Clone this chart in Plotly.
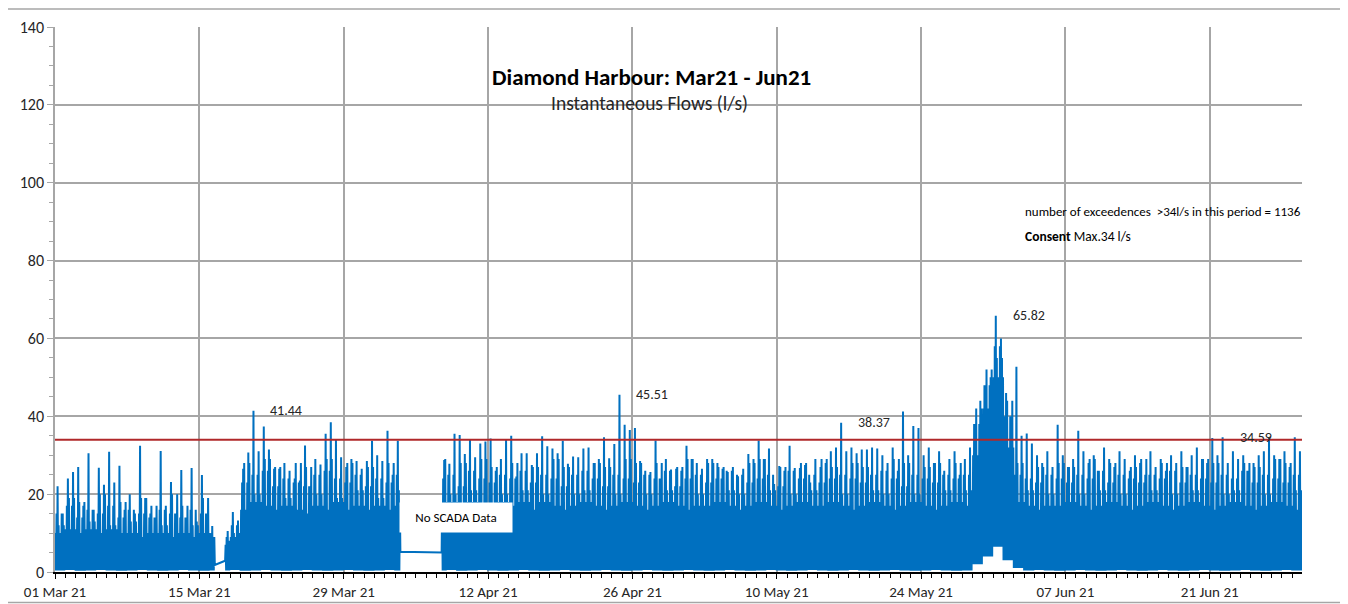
import plotly.graph_objects as go
from datetime import datetime, timedelta

START = datetime(2021, 3, 1)

# ---- data -----------------------------------------------------------------
# Peak flow (l/s) in each 12-hour slot; slot k starts at START + 12h*k
p1_first_slot = 0
p1_peaks = [22, 15, 24, 25.7, 27, 17, 30.5, 16, 26.8, 22.4, 30.9, 23, 27.3, 16, 20, 15,
            32.4, 19, 15, 14, 31.1, 17, 23.1, 14, 26.2, 14, 26.7, 13, 24.9, 12, 11.8]

p2_first_slot = 33
p2_peaks = [10.5, 15.4, 13.2, 26.5, 30.7, 41.44, 31, 37.4, 31.5, 26.5, 26.5, 28, 26, 24,
            23.5, 32.5, 22, 29, 27.6, 35.5, 38.5, 34, 29.5, 27, 29, 28.5, 26.5, 28.5,
            33.7, 30, 28.5, 36.3, 25, 33.7]

p3_first_slot = 75
p3_peaks = [28.8, 27.8, 35.5, 35.2, 30.3, 34.1, 29.5, 33, 33.5, 34.3,
            26, 29, 34, 35, 24.5, 30.5, 30.5, 27.5, 30.5, 34.9,
            32.3, 31.7, 30.5, 33.7, 27.8, 29.7, 29.5, 31.7, 32, 28,
            29, 34.6, 29.2, 32.9, 45.51, 37.8, 36.5, 37, 28.5, 26,
            25.7, 33.8, 23.5, 29, 26.3, 26.5, 26, 32.4, 29, 28,
            26.5, 29, 29, 28, 26.5, 25.7, 27, 24.6, 26.5, 30.3,
            29, 33.8, 29, 31.7, 22.6, 27.2, 26, 32.4, 26.7, 26.7,
            27.5, 23, 29, 27, 28, 31, 32, 38.37, 31, 32,
            30.5, 31.5, 31.5, 32, 31.7, 30, 28, 32, 26, 41.2,
            30, 37.5, 37, 30, 32, 28, 31, 26, 29, 31,
            25, 29, 32, 36, 44, 48, 50, 65.82, 60, 46,
            36, 52.7, 35, 35.6, 33, 30, 28, 31, 27, 37.8,
            30, 27, 29, 36.3, 31, 28, 30, 26, 32, 29,
            27, 31, 29, 26, 30, 28, 25, 31, 27, 29,
            26, 30, 28, 31, 27, 30, 32, 29, 28, 34.4,
            30, 34.59, 28, 31, 29, 30, 26, 28, 30, 31,
            34.4, 30, 29, 31, 27, 34.6, 31]

# Daily levels (index = day since 01 Mar 21): dense "solid" level, two kinds of
# secondary spikes, and overnight minima
day_base = [10, 11, 10, 11, 10, 11, 10, 10, 9, 10, 10, 9, 10, 9, 10, 9,
            7, 9, 16, 18, 17, 16, 17, 16, 15, 17, 16, 18, 16, 17, 16, 17, 16, 17,
            None, None, None,
            17, 18, 16, 18, 17, 16, 18, 17, 18, 16,
            18, 17, 16, 17, 18, 17, 16, 17, 18, 17,
            16, 17, 18, 17, 16, 17, 17, 18, 17, 16,
            17, 18, 17, 16, 17, 18, 17, 17, 18, 17,
            16, 17, 18, 17, 16, 17, 18, 17, 16, 17,
            18, 17, 30, 42, 50, 32, 18, 17, 16, 17,
            17, 18, 17, 16, 17, 18, 17, 16, 17, 18,
            17, 16, 17, 18, 17, 16, 17, 18, 17, 16,
            17, 18, 17, 16, 17]
day_mid = [15, 17, 14, 16, 15, 17, 14, 16, 15, 14, 16, 15, 14, 16, 15, 10,
           9, 12, 23, 25, 26, 22, 24, 23, 22, 25, 26, 24, 23, 25, 22, 24, 23, 25,
           None, None, None,
           24, 25, 22, 26, 24, 23, 25, 24, 26, 23,
           25, 24, 22, 25, 26, 24, 22, 25, 24, 23,
           25, 24, 26, 22, 24, 25, 23, 24, 26, 25,
           23, 24, 25, 22, 26, 24, 25, 23, 24, 25,
           24, 23, 25, 26, 24, 22, 25, 24, 23, 25,
           24, 25, 38, 48, 58, 40, 25, 24, 23, 25,
           24, 23, 25, 24, 26, 23, 25, 24, 23, 25,
           24, 26, 23, 25, 24, 23, 25, 24, 26, 23,
           25, 24, 23, 25, 24]
day_mid2 = [12, 19, 18, 13, 20, 12, 18, 13, 19, 17, 12, 20, 17, 12, 19, 8,
            8, 10, 28, 20, 29, 27, 19, 28, 27, 20, 29, 19, 28, 21, 27, 19, 28, 21,
            None, None, None,
            29, 20, 28, 21, 29, 27, 20, 28, 21, 27,
            20, 29, 27, 20, 21, 28, 27, 20, 29, 28,
            20, 28, 21, 27, 29, 20, 28, 27, 21, 20,
            28, 29, 21, 27, 20, 28, 21, 29, 27, 20,
            28, 27, 21, 20, 29, 28, 20, 27, 28, 21,
            28, 21, 42, 52, 55, 44, 28, 21, 27, 20,
            28, 27, 20, 29, 21, 28, 20, 27, 29, 21,
            28, 20, 27, 21, 29, 28, 20, 21, 28, 27,
            20, 29, 28, 21, 27]
day_low = [0.4, 0.5, 0.3, 0.4, 0.5, 0.4, 0.3, 0.4, 0.5, 0.4, 0.3, 0.4, 0.5, 0.4, 0.3, 0.4,
           0.4, 0.5, 0.3, 0.4, 0.5, 0.4, 0.3, 0.4, 0.5, 0.4, 0.3, 0.4, 0.5, 0.4, 0.3, 0.4, 0.5, 0.4,
           None, None, None,
           0.4, 0.5, 0.3, 0.4, 0.5, 0.4, 0.3, 0.4, 0.5, 0.4,
           0.3, 0.4, 0.5, 0.4, 0.3, 0.4, 0.5, 0.4, 0.3, 0.4,
           0.5, 0.4, 0.3, 0.4, 0.5, 0.4, 0.3, 0.4, 0.5, 0.4,
           0.3, 0.4, 0.5, 0.4, 0.3, 0.4, 0.5, 0.4, 0.3, 0.4,
           0.5, 0.4, 0.3, 0.4, 0.5, 0.4, 0.3, 0.4, 0.5, 0.4,
           0.3, 0.4, 2.0, 4.0, 6.5, 3.0, 1.0, 0.4, 0.5, 0.4,
           0.3, 0.4, 0.5, 0.4, 0.3, 0.4, 0.5, 0.4, 0.3, 0.4,
           0.5, 0.4, 0.3, 0.4, 0.5, 0.4, 0.3, 0.4, 0.5, 0.4,
           0.3, 0.4, 0.5, 0.4, 0.3]

# Boundary values at the data outages
p1_end_low = 1.8
p2_start_low = 2.9
p2_end_low = 5.2
p3_start_low = 5.0

consent_limit = 34
peak_labels = ["41.44", "45.51", "38.37", "65.82", "34.59"]
peak_values = [41.44, 45.51, 38.37, 65.82, 34.59]

# ---- build the line --------------------------------------------------------
slot_offsets_h = [0, 1.2, 2.4, 3.6, 4.8, 6.0, 7.2, 8.4, 9.6, 10.8]
slot_roles = ["low", "base", "low", "mid", "low", "peak", "low", "mid2", "low", "base"]


def build(first_slot, peaks, start_low, end_low):
    xs, ys = [], []
    for i, p in enumerate(peaks):
        k = first_slot + i
        d = k // 2
        lv = {"low": day_low[d], "base": day_base[d], "mid": day_mid[d],
              "mid2": day_mid2[d], "peak": p}
        for off, role in zip(slot_offsets_h, slot_roles):
            xs.append(START + timedelta(hours=12 * k + off))
            ys.append(lv[role])
    ys[0] = start_low
    xs.append(START + timedelta(hours=12 * (first_slot + len(peaks))))
    ys.append(end_low)
    return xs, ys


x1, y1 = build(p1_first_slot, p1_peaks, day_low[0], p1_end_low)
x2, y2 = build(p2_first_slot, p2_peaks, p2_start_low, p2_end_low)
x3, y3 = build(p3_first_slot, p3_peaks, p3_start_low, day_low[120])
xs = x1 + x2 + x3
ys = y1 + y2 + y3

peak_times = [xs[ys.index(v)] for v in peak_values]

fig = go.Figure()
fig.add_trace(go.Scatter(x=xs, y=ys, mode="lines",
                         line=dict(color="#0070C0", width=2), showlegend=False,
                         hoverinfo="skip"))
fig.add_trace(go.Scatter(x=[START, START + timedelta(days=120.95)],
                         y=[consent_limit, consent_limit], mode="lines",
                         line=dict(color="#B0282A", width=2), showlegend=False,
                         hoverinfo="skip"))

FONT = "Calibri, Carlito, Lato, sans-serif"
GRID = "#A6A6A6"

fig.update_layout(
    width=1340, height=596,
    margin=dict(l=47, r=46, t=19, b=32, pad=0),
    paper_bgcolor="white", plot_bgcolor="white",
    font=dict(family=FONT, size=15, color="#262626"),
    xaxis=dict(
        type="date", automargin=False,
        range=[START, START + timedelta(days=120.95)],
        tick0=START, dtick=14 * 86400000,
        tickformat="%d %b %y",
        showgrid=True, gridcolor=GRID, gridwidth=1.5,
        showline=True, linecolor="black", linewidth=1.5,
        ticks="outside", ticklen=5, tickcolor="black",
        minor=dict(dtick=86400000, ticks="outside", ticklen=4, tickcolor="black", showgrid=False),
        tickfont=dict(size=15),
        zeroline=False,
    ),
    yaxis=dict(
        automargin=False,
        range=[0, 140], dtick=20,
        showgrid=True, gridcolor=GRID, gridwidth=1.5,
        showline=True, linecolor=GRID, linewidth=1.5,
        ticks="outside", ticklen=6, tickcolor=GRID,
        minor=dict(dtick=5, ticks="outside", ticklen=4, tickcolor=GRID, showgrid=False),
        tickfont=dict(size=16),
        zeroline=False,
    ),
)

annotations = [
    dict(text="<b>Diamond Harbour: Mar21 - Jun21</b>", xref="paper", yref="paper",
         x=0.478, y=0.908, xanchor="center", yanchor="middle", showarrow=False,
         font=dict(size=23, color="black")),
    dict(text="Instantaneous Flows (l/s)", xref="paper", yref="paper",
         x=0.477, y=0.861, xanchor="center", yanchor="middle", showarrow=False,
         font=dict(size=19.5, color="#262626")),
    dict(text="number of exceedences  &gt;34l/s in this period = 1136", xref="paper", yref="paper",
         x=0.776, y=0.661, xanchor="left", yanchor="middle", showarrow=False,
         font=dict(size=13, color="black")),
    dict(text="<b>Consent</b> Max.34 l/s", xref="paper", yref="paper",
         x=0.776, y=0.615, xanchor="left", yanchor="middle", showarrow=False,
         font=dict(size=13.5, color="black")),
    dict(text="No SCADA Data", xref="paper", yref="paper",
         x=0.3216, y=0.1009, xanchor="center", yanchor="middle", showarrow=False,
         bgcolor="white", width=108, height=25, borderpad=2,
         font=dict(size=13, color="black")),
]
for t, v, lab in zip(peak_times, peak_values, peak_labels):
    annotations.append(dict(text=lab, x=t, y=v, xref="x", yref="y", xanchor="left",
                            yanchor="middle", xshift=15, showarrow=False,
                            font=dict(size=14, color="#262626")))
fig.update_layout(annotations=annotations)

# outer chart border
fig.add_shape(type="rect", xref="paper", yref="paper",
              x0=-0.0401, x1=1.0337, y0=-0.056, y1=1.033,
              line=dict(color="#A6A6A6", width=1.5), fillcolor="rgba(0,0,0,0)", layer="above")

fig.write_html("out.html")
